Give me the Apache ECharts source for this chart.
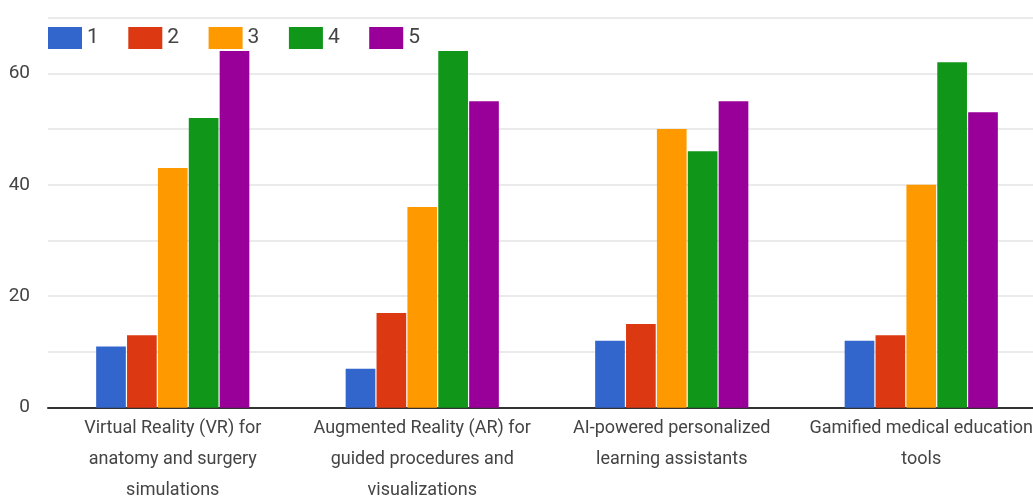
<!DOCTYPE html>
<html>
<head>
<meta charset="utf-8">
<script src="https://cdn.jsdelivr.net/npm/echarts@6/dist/echarts.min.js"></script>
<style>
  html, body { margin: 0; padding: 0; background: #fff; }
  #chart { width: 1033px; height: 502px; }
</style>
</head>
<body>
<div id="chart"></div>
<script>
// categories (line breaks as in the picture)
var categories = [
  'Virtual Reality (VR) for\nanatomy and surgery\nsimulations',
  'Augmented Reality (AR) for\nguided procedures and\nvisualizations',
  'AI-powered personalized\nlearning assistants',
  'Gamified medical education\ntools'
];
var seriesNames = ['1', '2', '3', '4', '5'];
var colors = ['#3366cc', '#dc3912', '#ff9900', '#109618', '#990099'];

// values per rating, one entry per category
var rating1 = [11, 7, 12, 12];
var rating2 = [13, 17, 15, 13];
var rating3 = [43, 36, 50, 40];
var rating4 = [52, 64, 46, 62];
var rating5 = [64, 55, 55, 53];

var yTicks = [0, 20, 40, 60];

var FONT = 'Roboto, sans-serif';

var chart = echarts.init(document.getElementById('chart'));

var allValues = [rating1, rating2, rating3, rating4, rating5];
var series = [];
for (var i = 0; i < seriesNames.length; i++) {
  series.push({
    name: seriesNames[i],
    type: 'bar',
    data: allValues[i],
    itemStyle: { color: colors[i] },
    barGap: '4%',
    barCategoryGap: '38.6%'
  });
}

chart.setOption({
  animation: false,
  color: colors,
  legend: {
    left: 48,
    top: 27,
    padding: 0,
    itemWidth: 34,
    itemHeight: 22,
    itemGap: 29.5,
    icon: 'rect',
    textStyle: { fontFamily: FONT, fontSize: 21, color: '#444' },
    data: seriesNames
  },
  grid: {
    left: 48,
    top: 17.6,
    width: 998,
    bottom: 94.3,
    outerBoundsMode: 'none'
  },
  xAxis: {
    type: 'category',
    data: categories,
    axisLine: { lineStyle: { color: '#333', width: 2 } },
    axisTick: { show: false },
    axisLabel: {
      interval: 0,
      margin: 5,
      fontFamily: FONT,
      fontSize: 18,
      lineHeight: 31,
      color: '#444'
    }
  },
  yAxis: {
    type: 'value',
    min: 0,
    max: 70,
    interval: 10,
    axisLine: { show: false },
    axisTick: { show: false },
    splitLine: { lineStyle: { color: '#e3e3e3', width: 1.5 } },
    axisLabel: {
      margin: 18,
      fontFamily: FONT,
      fontSize: 19,
      color: '#444',
      formatter: function (v) {
        return yTicks.indexOf(v) >= 0 ? String(v) : '';
      }
    }
  },
  series: series
});
</script>
</body>
</html>
